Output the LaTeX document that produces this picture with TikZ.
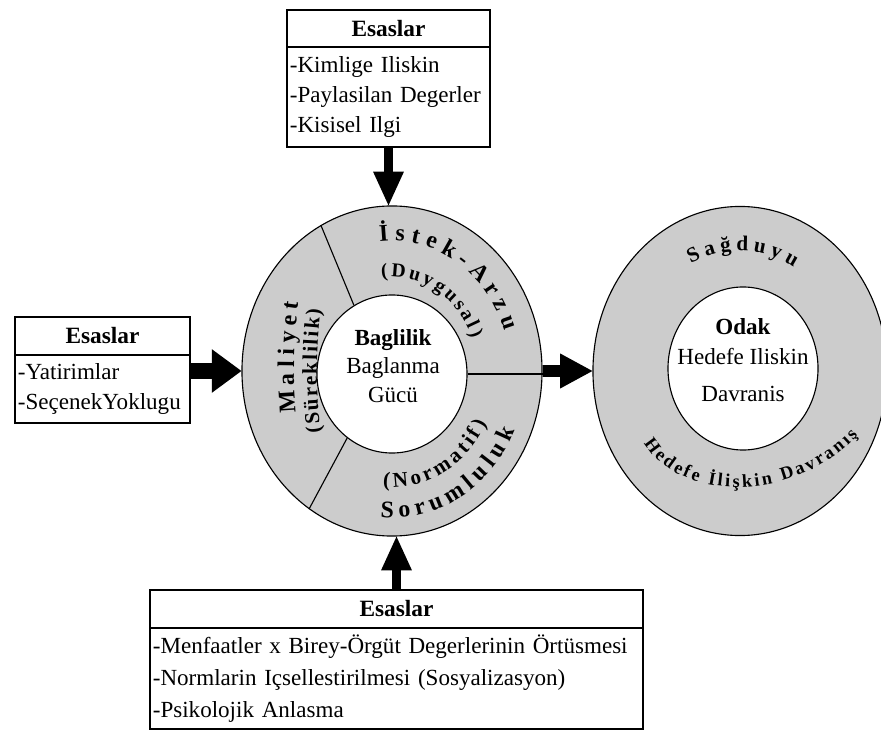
\documentclass[tikz,border=0pt]{standalone}
\usepackage{fontspec}
\setmainfont{Liberation Serif}
\usepackage{tikz}
\usetikzlibrary{arrows.meta,positioning,calc,shapes.geometric,decorations.text}
\definecolor{ringgray}{HTML}{CCCCCC}
\newcommand{\ringfont}[1]{\fontsize{#1}{#1}\selectfont\bfseries}

\begin{document}
\begin{tikzpicture}[
  x=0.025cm, y=0.025cm,
  every node/.style={font=\fontsize{16.4}{21.3}\selectfont},
  head/.style={draw, line width=1.2pt, outer sep=0pt, minimum height=0.95cm, font=\fontsize{16.6}{21.3}\selectfont\bfseries},
  body/.style={draw, line width=1.2pt, outer sep=0pt, align=left, inner xsep=2pt, inner ysep=0pt},
  ring/.style={draw, ellipse, line width=0.8pt, fill=ringgray, inner sep=0pt},
  hole/.style={draw, ellipse, line width=0.8pt, fill=white, inner sep=0pt},
  fat/.style={line width=7pt, -{Triangle[length=24pt, width=22pt, line width=0pt]}},
  ringtext/.style 2 args={decorate, decoration={text along path, text align=fit to path, text={|\ringfont{#1}|#2}}}
]
\useasboundingbox (0,0) rectangle (881,731);
\clip (0,0) rectangle (881,731);

% boxes
\node[head, minimum width=5.075cm, minimum height=0.925cm] (topHead) at (388.5,702.5) {Esaslar};
\node[body, below=0pt of topHead, minimum width=5.075cm, text width=4.93cm, minimum height=2.5cm] (topBody) {-Kimlige Iliskin\\-Paylasilan Degerler\\-Kisisel Ilgi};
\node[head, minimum width=4.375cm] (leftHead) at (102.5,395) {Esaslar};
\node[body, below=0pt of leftHead, minimum width=4.375cm, text width=4.23cm, minimum height=1.7cm] (leftBody) {-Yatirimlar\\-SeçenekYoklugu};
\node[head, minimum width=12.325cm] (botHead) at (396.5,122) {Esaslar};
\node[body, below=0pt of botHead, minimum width=12.325cm, text width=12.18cm, minimum height=2.525cm, font=\fontsize{16.4}{22.8}\selectfont] (botBody) {-Menfaatler x Birey-Örgüt Degerlerinin Örtüsmesi\\-Normlarin Içsellestirilmesi (Sosyalizasyon)\\-Psikolojik Anlasma};

% rings
\coordinate (cL) at (392,360);
\coordinate (cR) at (740,360);
\node[ring, minimum width=7.5cm, minimum height=8.25cm] (ringL) at (cL) {};
\node[hole, minimum width=3.75cm, minimum height=3.95cm] (holeL) at (392,357) {};
\node[ring, minimum width=7.35cm, minimum height=8.225cm] (ringR) at (cR) {};
\node[hole, minimum width=3.75cm, minimum height=4.075cm] (holeR) at (743,362.5) {};
\draw[line width=0.8pt] (holeL.119) -- (ringL.116);
\draw[line width=0.8pt] (holeL.235) -- (ringL.239);
\draw[line width=0.8pt] (holeL.east) -- (holeL.east -| ringL.east);

\node[align=center, font=\fontsize{16.4}{20.3}\selectfont] (baglilik) at (393,365) {\textbf{Baglilik}\\Baglanma\\Gücü};
\node[align=center] (odak) at (743,371) {\textbf{Odak}\\Hedefe Iliskin\\[5pt]Davranis};

% ring labels
\path[ringtext={17}{İstek-Arzu}] ($(cL)+(96:118 and 130)$) arc[start angle=96, end angle=18, x radius=118, y radius=130];
\path[ringtext={14}{(Duygusal)}] ($(cL)+(97:85 and 94)$) arc[start angle=97, end angle=20, x radius=85, y radius=94];
\path[ringtext={17}{Maliyet}] ($(cL)+(191:98 and 220)$) arc[start angle=191, end angle=162, x radius=98, y radius=220];
\path[ringtext={15}{(Süreklilik)}] ($(cL)+(198:75 and 200)$) arc[start angle=198, end angle=162, x radius=75, y radius=200];
\path[ringtext={15}{(Normatif)}] ($(cL)+(265:106 and 116)$) arc[start angle=265, end angle=333, x radius=106, y radius=116];
\path[ringtext={17}{Sorumluluk}] ($(cL)+(265:134 and 147)$) arc[start angle=265, end angle=336, x radius=134, y radius=147];
\path[ringtext={15}{Sağduyu}] ($(cR)+(117:108 and 120)$) arc[start angle=117, end angle=60, x radius=108, y radius=120];
\path[ringtext={13}{Hedefe İlişkin Davranış}] ($(cR)+(-96,-72)$) .. controls ($(cR)+(-60,-132)$) and ($(cR)+(55,-132)$) .. ($(cR)+(118,-64)$);

% arrows
\draw[fat] (topBody.south) -- (topBody.south |- ringL.north);
\draw[fat, line width=12pt, -{Triangle[length=21pt, width=31pt, line width=0pt]}] (leftBody.east |- ringL.west) -- (ringL.west);
\draw[fat, line width=8.5pt, -{Triangle[length=23pt, width=25pt, line width=0pt]}] (ringL.east) -- (ringR.west);
\draw[fat] (botHead.north) -- (botHead.north |- ringL.south);
\end{tikzpicture}
\end{document}
